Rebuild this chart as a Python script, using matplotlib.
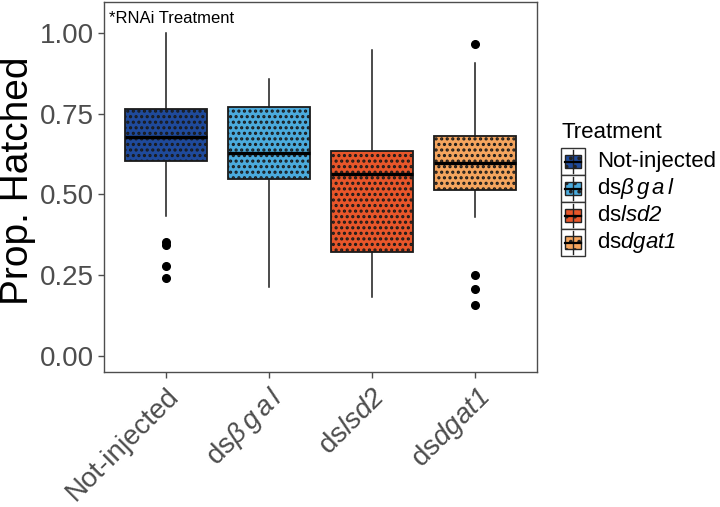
import matplotlib
matplotlib.use("Agg")
import matplotlib.pyplot as plt
from matplotlib.patches import Rectangle

plt.rcParams['font.family'] = ['Liberation Sans', 'DejaVu Sans']
plt.rcParams['mathtext.fontset'] = 'custom'
plt.rcParams['mathtext.rm'] = 'Liberation Sans'
plt.rcParams['mathtext.it'] = 'Liberation Sans:italic'
# sf slot used as italic so digits stay italic too
plt.rcParams['mathtext.sf'] = 'Liberation Sans:italic'
plt.rcParams['hatch.linewidth'] = 1.5
plt.rcParams['hatch.color'] = 'black'

# Data
groups = ['Not-injected', r'ds$\mathsf{β\,g\,a\,l}$', r'ds$\mathsf{lsd2}$', r'ds$\mathsf{dgat1}$']
colors = ['#1F4A9B', '#4BABDD', '#E8562A', '#F5A55E']
q1 = [0.604, 0.548, 0.323, 0.514]
med = [0.679, 0.628, 0.564, 0.598]
q3 = [0.765, 0.771, 0.635, 0.680]
whislo = [0.434, 0.214, 0.183, 0.431]
whishi = [1.000, 0.858, 0.947, 0.908]
fliers = [[0.354, 0.342, 0.279, 0.242], [], [], [0.966, 0.251, 0.208, 0.158]]

fig = plt.figure(figsize=(7.2, 5.07), dpi=100)
ax = fig.add_axes([104/720, 1-372/507, 433/720, 370/507])

stats = []
for i in range(len(groups)):
    stats.append(dict(med=med[i], q1=q1[i], q3=q3[i], whislo=whislo[i],
                      whishi=whishi[i], fliers=fliers[i]))

bp = ax.bxp(stats, positions=range(1, 5), widths=0.8, patch_artist=True,
            showcaps=False,
            boxprops=dict(edgecolor='#1A1A1A', linewidth=1.3),
            medianprops=dict(color='black', linewidth=2.4, solid_capstyle='butt'),
            whiskerprops=dict(color='#1A1A1A', linewidth=1.1),
            flierprops=dict(marker='o', markerfacecolor='black', markeredgecolor='black',
                            markersize=5.5, linestyle='none'))
for box, c in zip(bp['boxes'], colors):
    box.set_facecolor(c)
    box.set_hatch('...')

ax.set_xlim(0.4, 4.6)
ax.set_ylim(-0.05, 1.096)
ax.set_yticks([0, 0.25, 0.5, 0.75, 1.0])
ax.set_yticklabels(['0.00', '0.25', '0.50', '0.75', '1.00'])
ax.set_xticks(range(1, 5))
ax.set_xticklabels(groups, rotation=45, ha='right', va='top', rotation_mode='anchor')
ax.tick_params(axis='both', colors='#4D4D4D', labelsize=20, length=4, width=1, direction='out')
ax.tick_params(axis='x', pad=4)
ax.tick_params(axis='y', pad=3)
for s in ax.spines.values():
    s.set_color('#4D4D4D')
    s.set_linewidth(1)

ax.text(0.012, 0.975, '*RNAi Treatment', transform=ax.transAxes, fontsize=12,
        ha='left', va='top')
fig.text(18/720, 1-181/507, 'Prop. Hatched', rotation=90, ha='center', va='center',
         fontsize=28)

# legend
leg = fig.add_axes([561/720, 1-256/507, 24/720, 108/507])
leg.set_xlim(0, 1)
leg.set_ylim(4, 0)
leg.axis('off')
for i, (lab, c) in enumerate(zip(groups, colors)):
    leg.add_patch(Rectangle((0, i), 1, 1, facecolor='white', edgecolor='#333333',
                            linewidth=1, clip_on=False))
    leg.plot([0.5, 0.5], [i + 0.08, i + 0.92], color='#222222', linewidth=1, clip_on=False)
    leg.add_patch(Rectangle((0.17, i + 0.26), 0.66, 0.48, facecolor=c, edgecolor='#222222',
                            linewidth=1, hatch='..', clip_on=False))
    leg.plot([0.17, 0.83], [i + 0.5, i + 0.5], color='black', linewidth=1.6, clip_on=False)
    leg.text(1.5, i + 0.5, lab, fontsize=16, ha='left', va='center', clip_on=False)
fig.text(562/720, 1-138/507, 'Treatment', fontsize=16, ha='left', va='baseline')

fig.savefig('out.png', dpi=100)
